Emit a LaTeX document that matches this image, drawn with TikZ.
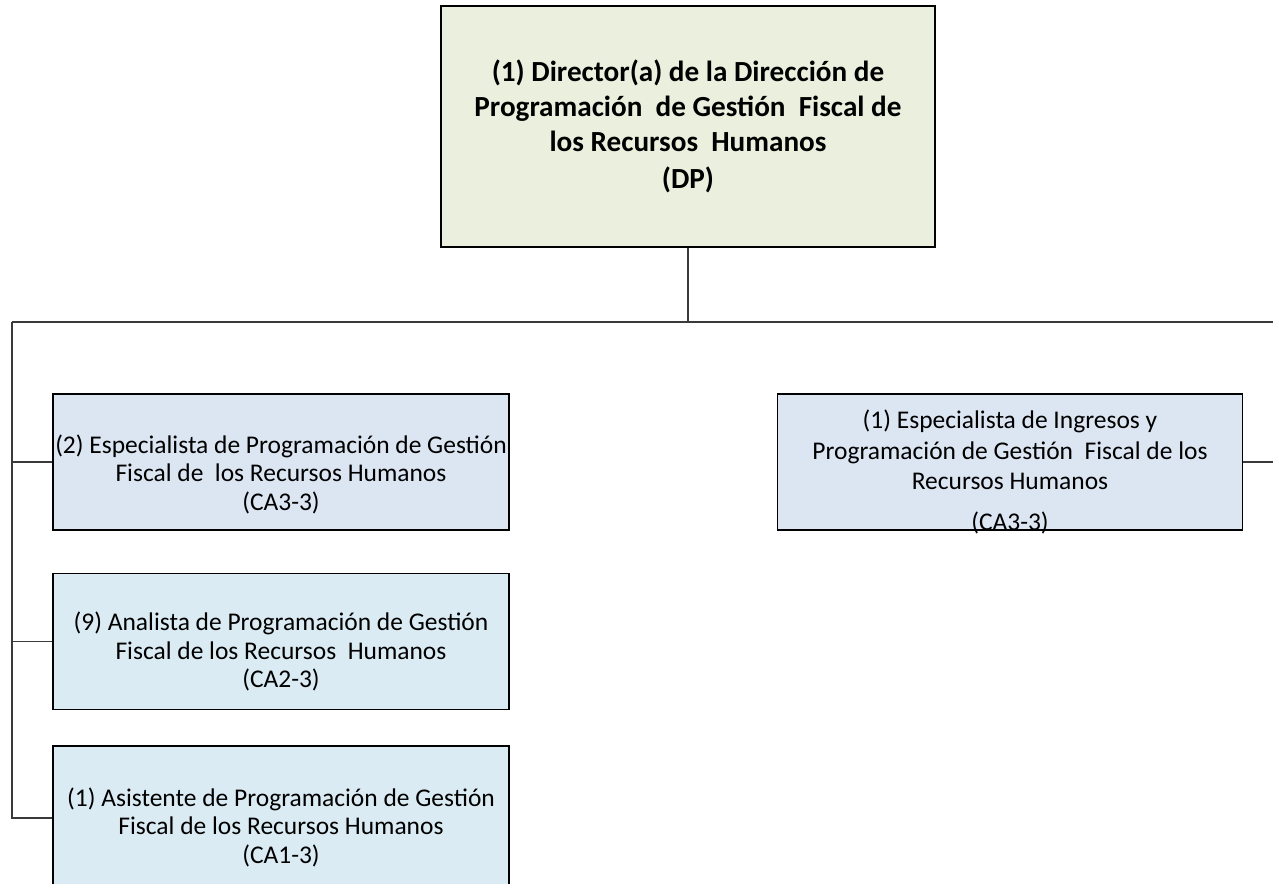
\documentclass[tikz,border=0pt]{standalone}
\usepackage{fontspec}
\setmainfont{Carlito}
\usepackage{tikz}
\usetikzlibrary{positioning, calc}
\definecolor{dirolive}{HTML}{EBF0DE}
\definecolor{espblue}{HTML}{DCE6F2}
\definecolor{analcyan}{HTML}{DBEBF3}
\definecolor{connline}{HTML}{3A3A3A}
\tikzset{
    box/.style={rectangle, draw=black, line width=0.85pt, align=center, inner sep=0pt},
    boxtext/.style={align=center, inner sep=0pt, font=\fontsize{14.5}{16.2}\selectfont},
    dirbox/.style={box, fill=dirolive, minimum width=9.88cm, minimum height=4.82cm, font=\fontsize{16.6}{20}\selectfont\bfseries},
    espbox/.style={box, fill=espblue, minimum width=9.12cm, minimum height=2.72cm},
    analbox/.style={box, fill=analcyan, minimum width=9.12cm, minimum height=2.72cm},
    conn/.style={draw=connline, line width=0.6pt}
}

\begin{document}
\begin{tikzpicture}
        \useasboundingbox (0,0) rectangle (25.46,-17.66);
        \node[dirbox] (dp) at (13.76,-2.53) {(1) Director(a) de la Dirección de\\Programación\ \ de Gestión\ \ Fiscal de\\los Recursos\ \ Humanos\\[1pt](DP)};
        \node[espbox, label={[boxtext, yshift=-0.24cm]center:(2) Especialista de Programación de Gestión\\Fiscal de\ \ los Recursos Humanos\\(CA3-3)}] (espprog) at (5.62,-9.24) {};
        \node[espbox, right=5.34cm of espprog, minimum width=9.30cm,
              label={[boxtext, yshift=-0.2cm, font=\fontsize{14.5}{17.4}\selectfont]center:(1) Especialista de Ingresos y\\Programación de Gestión\ \ Fiscal de los\\Recursos Humanos\\[0.2cm](CA3-3)}] (espingr) {};
        \node[analbox, below=0.84cm of espprog,
              label={[boxtext, yshift=-0.2cm]center:(9) Analista de Programación de Gestión\\Fiscal de los Recursos\ \ Humanos\\(CA2-3)}] (anal) {};
        \node[analbox, below=0.70cm of anal, minimum height=2.88cm,
              label={[boxtext, yshift=-0.18cm]center:(1) Asistente de Programación de Gestión\\Fiscal de los Recursos Humanos\\(CA1-3)}] (asist) {};
        \coordinate (busL) at (0.24,-6.44);
        \coordinate (busR) at (25.46,-6.44);
        \draw[conn] (dp.south) -- (dp.south |- busL);
        \draw[conn] (busL) -- (busR);
        \draw[conn] (busL) |- (asist.west);
        \draw[conn] (busL |- espprog.west) -- (espprog.west);
        \draw[conn] (busL |- anal.west) -- (anal.west);
        \draw[conn] (espingr.east) -- (espingr.east -| busR);
    \end{tikzpicture}
\end{document}
